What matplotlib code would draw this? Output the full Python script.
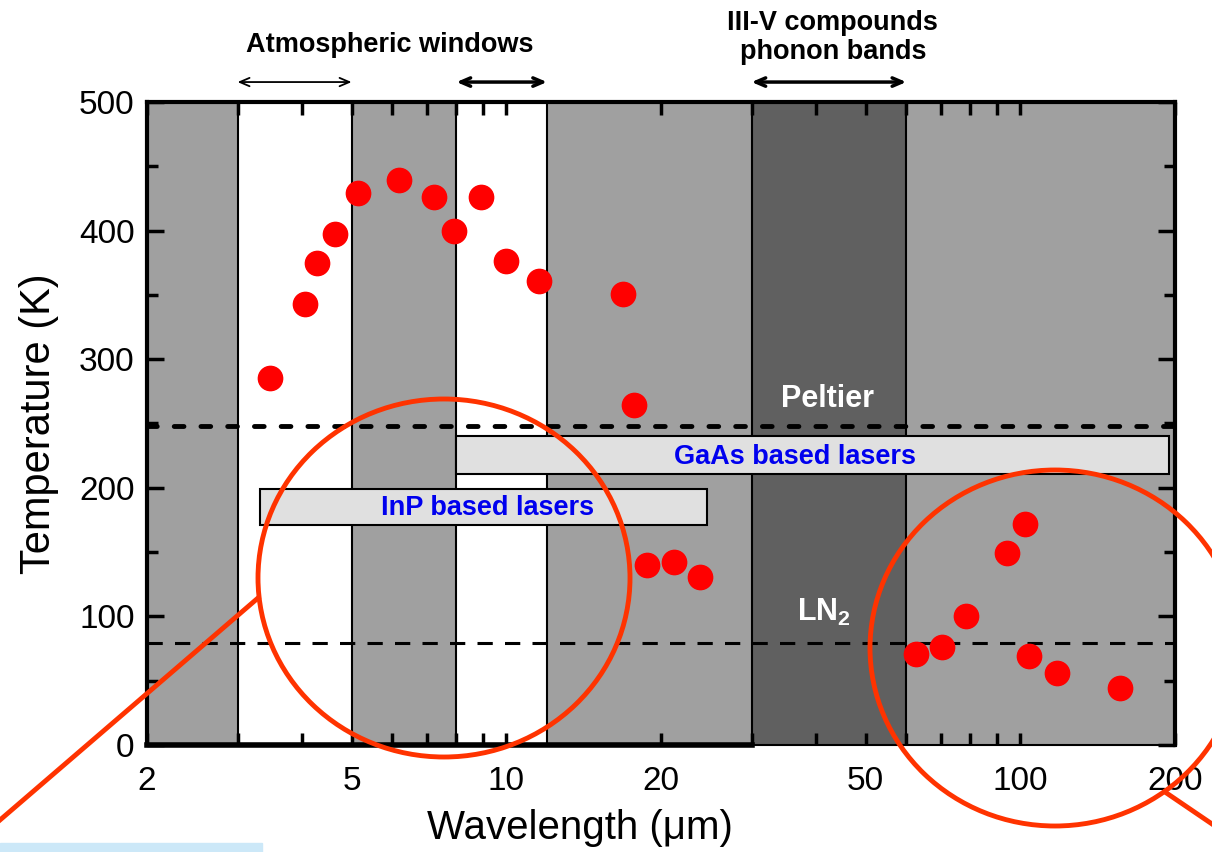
import matplotlib.pyplot as plt
import matplotlib.patches as patches
from matplotlib.lines import Line2D
from matplotlib.transforms import Affine2D, blended_transform_factory
from matplotlib.ticker import LogLocator, FixedLocator, NullFormatter

plt.rcParams['font.family'] = ['Liberation Sans', 'DejaVu Sans']
plt.rcParams['mathtext.fontset'] = 'custom'
plt.rcParams['mathtext.bf'] = 'Liberation Sans:bold'
plt.rcParams['mathtext.rm'] = 'Liberation Sans'

# measured laser temperatures
wavelength = [3.47, 4.06, 4.28, 4.64, 5.15, 6.18, 7.23, 7.91, 8.93, 9.99, 11.6,
              16.9, 17.7, 18.8, 21.2, 23.8,
              62.7, 70.5, 78.5, 94.2, 102, 104, 118, 156]
temperature = [285, 343, 375, 397, 429, 439, 426, 400, 426, 376, 361,
               351, 264, 140, 142, 131,
               71, 76, 100, 149, 172, 69, 56, 44]

# spectral bands
band_edges = [2, 3, 5, 8, 12, 30, 60, 200]
band_colors = ['#a0a0a0', 'white', '#a0a0a0', 'white', '#a0a0a0', '#606060', '#a0a0a0']

# laser material ranges
laser_names = ['InP based lasers', 'GaAs based lasers']
laser_x = [(3.32, 24.6), (8.0, 195)]
laser_y = [(171, 199), (211, 240)]
laser_label_pos = [(9.2, 184), (36.5, 224)]

peltier_T = 248
ln2_T = 79

x_ticks = [2, 5, 10, 20, 50, 100, 200]
y_ticks = [0, 100, 200, 300, 400, 500]

fig = plt.figure(figsize=(12.12, 8.52), dpi=100)
ax = fig.add_axes([0.1213, 0.1256, 0.8482, 0.7547])
ax.set_xscale('log')
ax.set_xlim(2, 200)
ax.set_ylim(0, 500)

# background bands
for i in range(len(band_colors)):
    ax.axvspan(band_edges[i], band_edges[i + 1], color=band_colors[i], zorder=0, lw=0)
for e in band_edges[1:-1]:
    ax.axvline(e, color='black', lw=1.5, zorder=0.5)

# cooling limits
ax.axhline(peltier_T, color='black', lw=3.5, ls=(0, (2, 3.5)), dash_capstyle='round', zorder=1)
ax.axhline(ln2_T, color='black', lw=2.2, ls=(0, (5, 4)), zorder=1)

# laser material bars
for name, (x0, x1), (y0, y1), (tx, ty) in zip(laser_names, laser_x, laser_y, laser_label_pos):
    ax.barh((y0 + y1) / 2, x1 - x0, left=x0, height=y1 - y0, color='#e0e0e0',
            edgecolor='black', lw=1.5, zorder=2)
    ax.text(tx, ty, name, color='#0000ee', fontsize=19.5, fontweight='bold',
            ha='center', va='center', zorder=3)

ax.text(42.1, 269, 'Peltier', color='white', fontsize=22, fontweight='bold',
        ha='center', va='center')
ax.text(41.5, 103, r'$\mathbf{LN_2}$', color='white', fontsize=22,
        ha='center', va='center')

ax.plot(wavelength, temperature, 'o', color='#ff0000', ms=17.5, mec='#ff0000', zorder=4)

# ticks and spines
ax.xaxis.set_major_locator(FixedLocator(x_ticks))
ax.set_xticklabels([str(t) for t in x_ticks])
ax.xaxis.set_minor_locator(LogLocator(base=10, subs=range(1, 10)))
ax.xaxis.set_minor_formatter(NullFormatter())
ax.xaxis.remove_overlapping_locs = False
ax.set_yticks(y_ticks)
ax.yaxis.set_minor_locator(FixedLocator(range(50, 500, 100)))
ax.tick_params(which='both', direction='in', top=True, right=True, width=2.5, labelsize=24)
ax.tick_params(axis='x', which='major', length=0, pad=15)
ax.tick_params(axis='x', which='minor', length=9)
ax.tick_params(axis='y', which='major', length=12, pad=9)
ax.tick_params(axis='y', which='minor', length=8)
for s in ['left', 'top', 'right']:
    ax.spines[s].set_linewidth(3)
ax.spines['bottom'].set_linewidth(1.5)
ax.plot([band_edges[0], band_edges[5]], [0, 0], color='black', lw=4, clip_on=False, zorder=5)

ax.set_xlabel('Wavelength (\u03bcm)', fontsize=29)
ax.xaxis.label.set_va('baseline')
ax.xaxis.set_label_coords(0.421, -0.146)
ax.set_ylabel('Temperature (K)', fontsize=30, labelpad=14)

# annotations above the plot
top = blended_transform_factory(ax.transData, ax.transAxes)
arrows = [(3, 5, 1.3), (8, 12, 2.5), (30, 60, 2.5)]
for x0, x1, w in arrows:
    ax.annotate('', xy=(x0, 1.031), xytext=(x1, 1.031), xycoords=top, textcoords=top,
                arrowprops=dict(arrowstyle='<->,head_length=0.7,head_width=0.3', lw=w,
                                color='black', shrinkA=0, shrinkB=0))
ax.text(5.94, 1.089, 'Atmospheric windows', transform=top, ha='center', va='center',
        fontsize=19.5, fontweight='bold')
ax.text(43.2, 1.10, 'III-V compounds\nphonon bands', transform=top, ha='center',
        va='center', fontsize=19.5, fontweight='bold', linespacing=1.15)

# highlight circles drawn in image pixels
px = Affine2D().scale(1, -1).translate(0, 852)
red = '#ff3300'
fig.add_artist(patches.Ellipse((444, 578), 372, 358, transform=px, fill=False,
                               ec=red, lw=3.5, clip_on=False, zorder=10))
fig.add_artist(patches.Ellipse((1055, 648), 370, 356, transform=px, fill=False,
                               ec=red, lw=3.5, clip_on=False, zorder=10))
fig.add_artist(Line2D([0, 258], [820, 598], transform=px, color=red, lw=3.5, zorder=10))
fig.add_artist(Line2D([1165, 1215], [792, 826], transform=px, color=red, lw=3.5, zorder=10))
fig.add_artist(patches.Rectangle((0, 843), 262, 9, transform=px, color='#cce8f8', zorder=0))

plt.savefig('out.png', dpi=100)
